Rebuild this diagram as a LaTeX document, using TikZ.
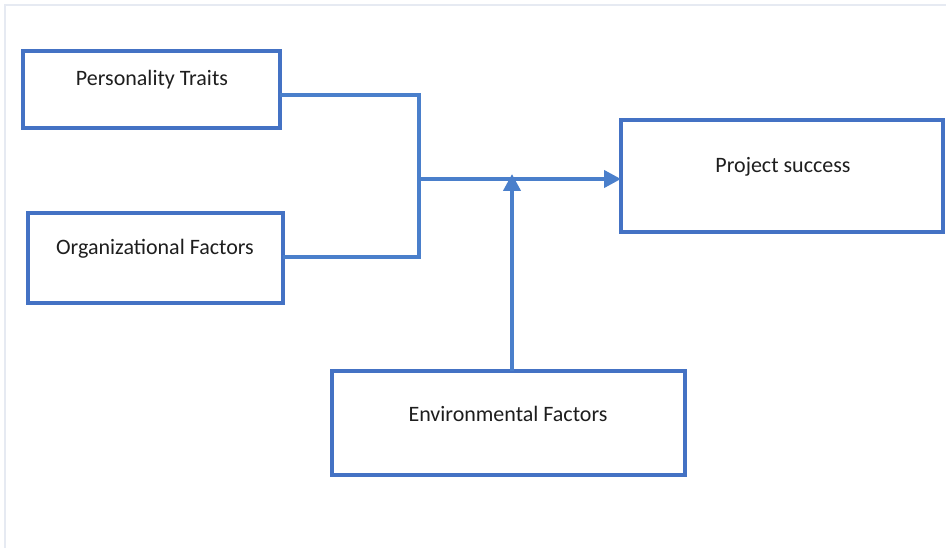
\documentclass[tikz,border=0pt]{standalone}
\usepackage{fontspec}
\setmainfont{Carlito}
\usetikzlibrary{arrows.meta}
\definecolor{boxblue}{HTML}{4472C4}
\definecolor{lineblue}{HTML}{4A7FCB}
\definecolor{framec}{HTML}{E6EAF2}
\definecolor{txt}{HTML}{1E1E1E}
\begin{document}
\begin{tikzpicture}[x=1pt,y=-1pt,
  box/.style={draw=boxblue, line width=3.5pt, rectangle, inner sep=0pt, outer sep=0pt},
  lbl/.style={inner sep=0pt, text=txt, font=\fontsize{22}{26}\selectfont},
  conn/.style={draw=lineblue, line width=4pt},
  arr/.style={conn, -{Triangle[length=17pt,width=17pt]}}]
\useasboundingbox (0,0) rectangle (946,548);
\fill[white] (0,0) rectangle (946,548);
\draw[framec, line width=1.5pt] (5,548) -- (5,5) -- (946,5);
% boxes
\node[box, minimum width=257pt, minimum height=77pt] (pt) at (151.5,89.5) {};
\node[box, minimum width=255pt, minimum height=90pt] (of) at (155.5,258) {};
\node[box, minimum width=322pt, minimum height=112pt] (ps) at (782,176) {};
\node[box, minimum width=353pt, minimum height=104pt] (ef) at (508.5,423) {};
% labels
\node[lbl] (ptl) at (152,80) {Personality Traits};
\node[lbl] (ofl) at (155,249) {Organizational Factors};
\node[lbl] (psl) at (783,167) {Project success};
\node[lbl] (efl) at (508,414) {Environmental Factors};
% connectors
\coordinate (j1) at (419,95);
\coordinate (j2) at (419,257);
\coordinate (j) at (419,179);
\coordinate (et) at (512,174);
\draw[conn, line join=miter] (pt.east |- j1) -- (j1) -- (j2) -- (of.east |- j2);
\draw[arr] (j) -- (ps.west |- j);
\draw[arr] (ef.north -| et) -- (et);
\end{tikzpicture}
\end{document}
